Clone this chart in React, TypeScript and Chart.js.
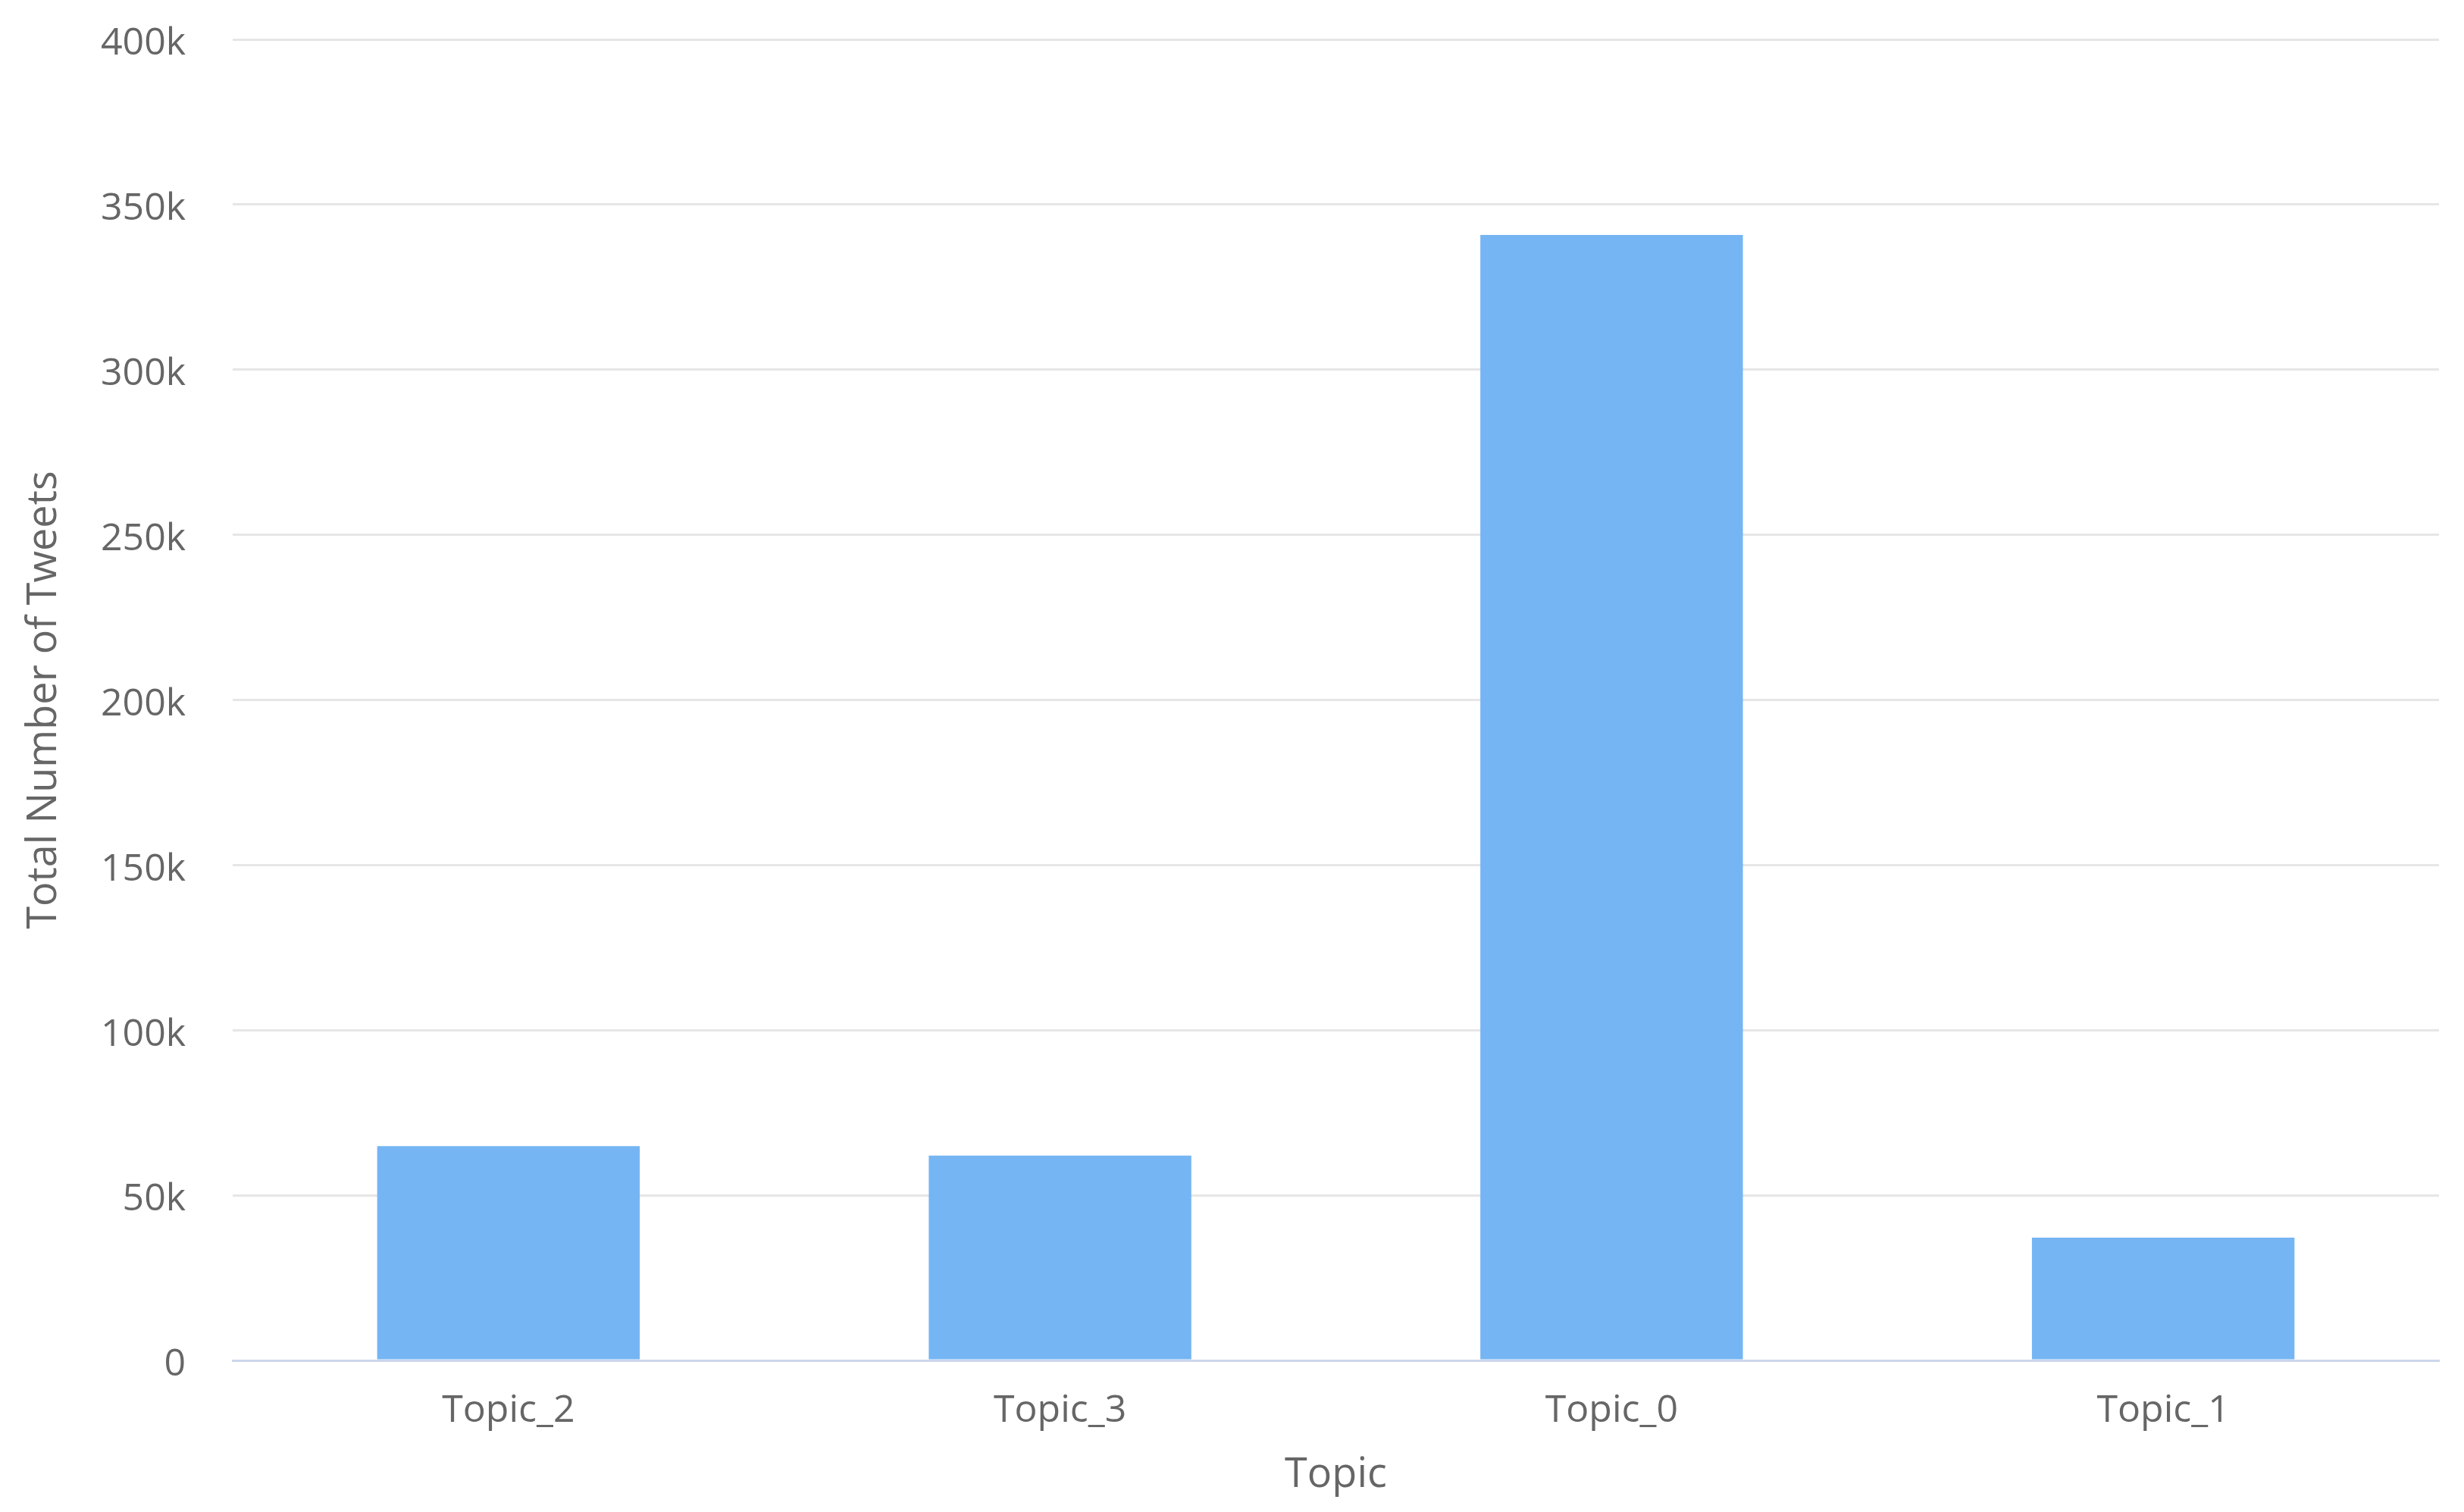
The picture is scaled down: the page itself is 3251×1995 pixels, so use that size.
import React, { useEffect, useRef } from "react";
import { Chart, registerables } from "chart.js";

Chart.register(...registerables);

const categories = ["Topic_2", "Topic_3", "Topic_0", "Topic_1"];
const tweetCounts = [64900, 62000, 340800, 37200];
const yTicks = [0, 50000, 100000, 150000, 200000, 250000, 300000, 350000, 400000];
const xTitle = "Topic";
const yTitle = "Total Number of Tweets";

const W = 3251;
const H = 1995;
const FONT = "'Open Sans', 'Noto Sans', sans-serif";
const TEXT = "#666666";

export default function App() {
  const ref = useRef<HTMLCanvasElement | null>(null);

  useEffect(() => {
    if (!ref.current) return;
    const chart = new Chart(ref.current, {
      type: "bar",
      data: {
        labels: categories,
        datasets: [
          {
            label: "Tweets",
            data: tweetCounts,
            backgroundColor: "#75b5f3",
            borderWidth: 0,
            barPercentage: 0.476,
            categoryPercentage: 1,
          },
        ],
      },
      options: {
        responsive: false,
        animation: false,
        devicePixelRatio: 1,
        layout: { padding: { top: 52, right: 33, left: 0, bottom: 0 } },
        plugins: {
          legend: { display: false },
          tooltip: { enabled: false },
          title: { display: false },
        },
        scales: {
          x: {
            grid: { display: false, drawTicks: false },
            border: { display: true, color: "#ccd6eb", width: 3 },
            ticks: {
              color: TEXT,
              font: { family: FONT, size: 50 },
              padding: 37,
              maxRotation: 0,
            },
            title: {
              display: true,
              text: xTitle,
              color: TEXT,
              font: { family: FONT, size: 54 },
              padding: { top: 0, bottom: 16 },
            },
            afterFit: (scale: any) => {
              scale.height = 200;
              scale.paddingLeft = 0;
              scale.paddingRight = 0;
            },
          },
          y: {
            min: 0,
            max: 400000,
            afterBuildTicks: (scale: any) => {
              scale.ticks = yTicks.map((v) => ({ value: v }));
            },
            grid: {
              drawTicks: false,
              lineWidth: 3,
              color: (ctx: any) => (ctx.tick && ctx.tick.value === 0 ? "rgba(0,0,0,0)" : "#e6e6e6"),
            },
            border: { display: false },
            ticks: {
              color: TEXT,
              font: { family: FONT, size: 50 },
              padding: 62,
              labelOffset: 6,
              callback: (v: any) => (Number(v) === 0 ? "0" : Number(v) / 1000 + "k"),
            },
            title: {
              display: true,
              text: yTitle,
              color: TEXT,
              font: { family: FONT, size: 54 },
              padding: { top: 26, bottom: 0 },
            },
            afterFit: (scale: any) => {
              scale.width = 307;
              scale.paddingTop = 0;
              scale.paddingBottom = 0;
            },
          },
        },
      },
    });
    return () => chart.destroy();
  }, []);

  return (
    <div style={{ position: "absolute", left: 0, top: 0, width: W, height: H, background: "#ffffff" }}>
      <canvas ref={ref} width={W} height={H} style={{ display: "block", width: W, height: H }} />
    </div>
  );
}
